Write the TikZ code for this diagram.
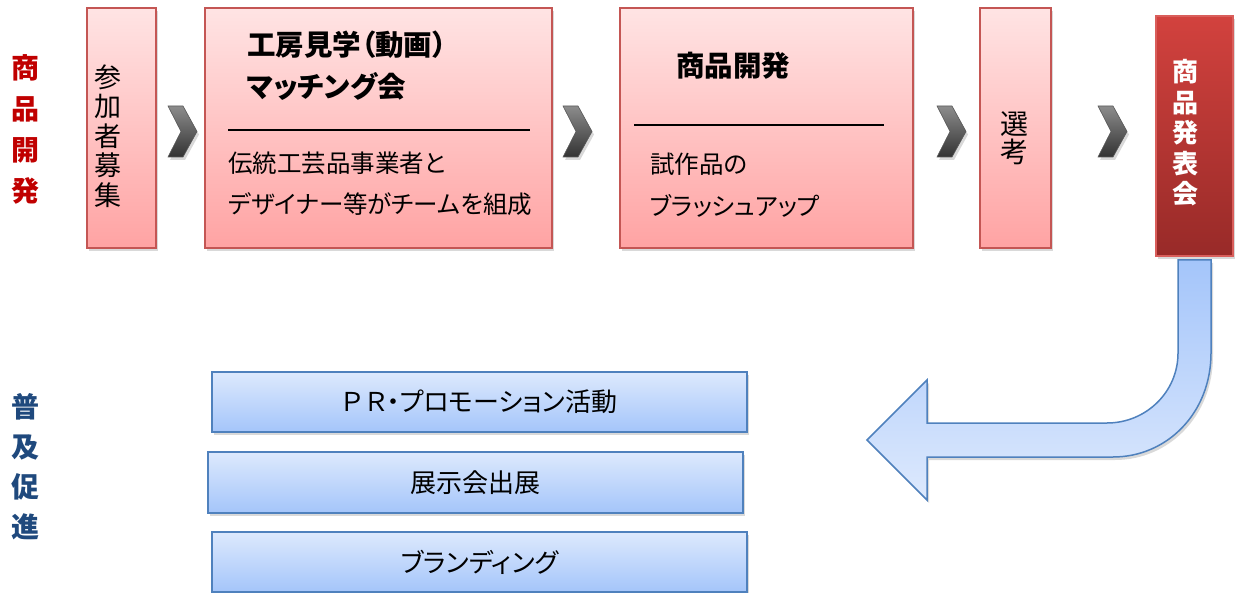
\documentclass[tikz,border=0pt]{standalone}
\usepackage{fontspec}
\setmainfont{Noto Sans CJK JP}[RawFeature=+palt]
\usetikzlibrary{shadows}
\definecolor{pinktop}{RGB}{255,228,228}
\definecolor{pinkbot}{RGB}{255,163,163}
\definecolor{pinkline}{RGB}{196,86,84}
\definecolor{redtop}{RGB}{210,66,62}
\definecolor{redbot}{RGB}{152,42,40}
\definecolor{bluetop}{RGB}{221,233,253}
\definecolor{bluebot}{RGB}{164,197,250}
\definecolor{blueline}{RGB}{79,129,189}
\definecolor{labelred}{RGB}{192,0,0}
\definecolor{labelblue}{RGB}{31,73,125}
\tikzset{
  boxshadow/.style={drop shadow={shadow xshift=2pt, shadow yshift=-3pt, opacity=0.3}},
  pinkbox/.style={boxshadow, draw=pinkline, line width=1.3pt, top color=pinktop, bottom color=pinkbot},
  redbox/.style={boxshadow, draw=redtop!85!white, line width=1.3pt, top color=redtop, bottom color=redbot},
  bluebox/.style={boxshadow, draw=blueline, line width=1.5pt, top color=bluetop, bottom color=bluebot,
    font=\fontsize{26}{30}\selectfont},
  chevron/.style={boxshadow, draw=black!65, line width=0.6pt, top color=black!45, bottom color=black!80},
  sidelabel/.style={align=center, inner sep=0pt, font=\bfseries\fontsize{28}{41}\selectfont},
  title/.style={anchor=west, inner sep=0pt, font=\bfseries\fontsize{28.5}{31}\selectfont},
  body/.style={anchor=west, inner sep=0pt, font=\fontsize{24.5}{28}\selectfont}
}
\begin{document}
\begin{tikzpicture}[x=1pt, y=-1pt]
  \useasboundingbox (0,0) rectangle (1238,593);
  % side labels
  \node[sidelabel, text=labelred] (kaihatsu) at (26,129) {商\\品\\開\\発};
  \node[sidelabel, text=labelblue, font=\bfseries\fontsize{28}{40}\selectfont] (fukyu) at (26,467) {普\\及\\促\\進};
  % upper row
  \node[pinkbox, minimum width=69pt, minimum height=240pt] (sanka) at (121.5,128) {};
  \node[pinkbox, minimum width=347pt, minimum height=240pt] (kobo) at (378.5,128) {};
  \node[pinkbox, minimum width=293pt, minimum height=240pt] (shohin) at (766.5,128) {};
  \node[pinkbox, minimum width=71pt, minimum height=240pt] (senko) at (1015.5,128) {};
  \node[redbox, minimum width=77pt, minimum height=240pt] (happyo) at (1194.5,136) {};
  \node[align=center, inner sep=0pt, font=\fontsize{27}{29.5}\selectfont] (sankatxt) at (108,136) {参\\加\\者\\募\\集};
  \node[title] (kobo1) at (247,45) {工房見学（動画）};
  \node[title] (kobo2) at (247,86) {マッチング会};
  \draw[line width=1.2pt] (228,130) -- (530,130);
  \node[body] (kobo3) at (228,163) {伝統工芸品事業者と};
  \node[body] (kobo4) at (228,204) {デザイナー等がチームを組成};
  \node[title] (shohin1) at (676,66) {商品開発};
  \draw[line width=1.2pt] (634,125) -- (884,125);
  \node[body] (shohin2) at (650,164) {試作品の};
  \node[body] (shohin3) at (650,206) {ブラッシュアップ};
  \node[align=center, inner sep=0pt, font=\fontsize{28}{28}\selectfont] (senkotxt) at (1014,138) {選\\考};
  \node[align=center, inner sep=0pt, text=white, font=\bfseries\fontsize{26}{30.5}\selectfont] (happyotxt) at (1185,133) {商\\品\\発\\表\\会};
  % chevrons
  \foreach \x in {168,563,937,1098}
    \path[chevron] (\x,106) -- ++(15,0) -- ++(14,25.5) -- ++(-14,25.5) -- ++(-15,0) -- ++(13,-25.5) -- cycle;
  % turning arrow
  \path[boxshadow, draw=blueline, line width=1.5pt, top color=bluebot, bottom color=bluetop]
    (1178,260) -- (1211,260) -- (1211,353) .. controls (1211,413) and (1167,457) .. (1113,457)
    -- (927,457) -- (927,500) -- (867,440) -- (927,380) -- (927,423) -- (1107,423)
    .. controls (1146,423) and (1178,392) .. (1178,353) -- cycle;
  % lower row
  \node[bluebox, minimum width=535pt, minimum height=60pt] (pr) at (479.5,402) {Ｐ\,Ｒ・プロモーション活動};
  \node[bluebox, minimum width=535pt, minimum height=61pt] (tenji) at (475.5,482.5) {展示会出展};
  \node[bluebox, minimum width=535pt, minimum height=60pt] (brand) at (479.5,562) {ブランディング};
\end{tikzpicture}
\end{document}
